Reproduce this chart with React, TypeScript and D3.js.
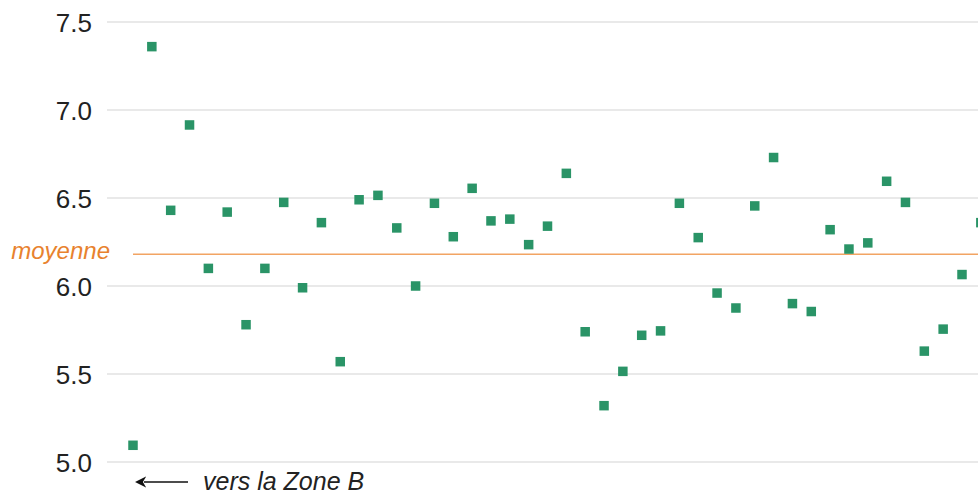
import React from "react";
import * as d3 from "d3";

const values: number[] = [
  5.095, 7.36, 6.43, 6.915, 6.1, 6.42, 5.78, 6.1, 6.475, 5.99,
  6.36, 5.57, 6.49, 6.515, 6.33, 6.0, 6.47, 6.28, 6.555, 6.37,
  6.38, 6.235, 6.34, 6.64, 5.74, 5.32, 5.515, 5.72, 5.745, 6.47,
  6.275, 5.96, 5.875, 6.455, 6.73, 5.9, 5.855, 6.32, 6.21, 6.245,
  6.595, 6.475, 5.63, 5.755, 6.065, 6.36,
];
const yTicks: number[] = [5.0, 5.5, 6.0, 6.5, 7.0, 7.5];
const meanValue = 6.18;
const meanLabel = "moyenne";
const arrowLabel = "vers la Zone B";

const W = 978;
const H = 494;

export default function App() {
  const y = d3.scaleLinear().domain([5.0, 7.5]).range([462, 22]);
  const x = d3.scaleLinear().domain([0, 44]).range([133, 962]);
  const sq = 9.5;
  const font = "Arial, 'Liberation Sans', Helvetica, sans-serif";
  const ym = y(meanValue);
  return (
    <svg
      width={W}
      height={H}
      style={{ position: "absolute", left: 0, top: 0, background: "#fff" }}
    >
      <defs>
        <marker id="ah" viewBox="0 0 10 10" refX="2" refY="5" markerWidth="7" markerHeight="7" orient="auto-start-reverse">
          <path d="M0,0 L10,5 L0,10 L3,5 z" fill="#111" />
        </marker>
      </defs>
      {yTicks.map((t) => (
        <g key={t}>
          <line x1={107} x2={W} y1={y(t)} y2={y(t)} stroke="#e2e2e2" strokeWidth={1.6} />
          <text
            x={92}
            y={y(t) + 9.5}
            textAnchor="end"
            fontFamily={font}
            fontSize={26}
            fill="#222"
          >
            {d3.format(".1f")(t)}
          </text>
        </g>
      ))}
      <line x1={133} x2={W} y1={ym} y2={ym} stroke="#f2a463" strokeWidth={1.6} />
      <text
        x={110}
        y={ym + 4.5}
        textAnchor="end"
        fontFamily={font}
        fontStyle="italic"
        fontSize={24}
        fill="#e8822e"
      >
        {meanLabel}
      </text>
      {values.map((v, i) => (
        <rect
          key={i}
          x={x(i) - sq / 2}
          y={y(v) - sq / 2}
          width={sq}
          height={sq}
          fill="#2a9467"
        />
      ))}
      <line
        x1={188}
        x2={144}
        y1={482}
        y2={482}
        stroke="#111"
        strokeWidth={1.6}
        markerEnd="url(#ah)"
      />
      <text
        x={203}
        y={490}
        fontFamily={font}
        fontStyle="italic"
        fontSize={25}
        fill="#222"
      >
        {arrowLabel}
      </text>
    </svg>
  );
}
